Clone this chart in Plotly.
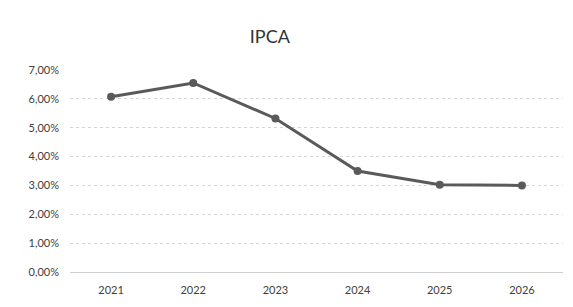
import plotly.graph_objects as go

years = ["2021", "2022", "2023", "2024", "2025", "2026"]
ipca = [6.07, 6.55, 5.32, 3.50, 3.02, 3.00]
y_ticks = [0, 1, 2, 3, 4, 5, 6, 7]
y_tick_labels = ["0,00%", "1,00%", "2,00%", "3,00%", "4,00%", "5,00%", "6,00%", "7,00%"]

fig = go.Figure()
fig.add_trace(go.Scatter(
    x=years, y=ipca, mode="lines+markers",
    line=dict(color="#5a5a5a", width=3),
    marker=dict(color="#5a5a5a", size=8),
    showlegend=False,
))

fig.update_layout(
    width=573, height=307,
    margin=dict(l=62, r=18, t=62, b=43),
    paper_bgcolor="white", plot_bgcolor="white",
    separators=",.",
    font=dict(family="Lato, Open Sans, sans-serif", color="#404040", size=11),
    title=dict(text="IPCA", x=0.457, xanchor="center", y=0.905, yanchor="middle",
               font=dict(size=18, color="#333333")),
    xaxis=dict(type="category", range=[-0.5, 5.5], showgrid=False, showline=False,
               ticks="", ticklabelstandoff=10, tickfont=dict(size=11, color="#404040")),
    yaxis=dict(range=[0, 7], tickvals=y_ticks, ticktext=y_tick_labels,
               showgrid=True, gridcolor="#d6d6d6", gridwidth=1, griddash="dot",
               zeroline=True, zerolinecolor="#cfcfcf", zerolinewidth=1,
               showline=False, ticks="", ticklabelstandoff=10,
               tickfont=dict(size=11, color="#404040")),
)

fig.write_html("out.html")
